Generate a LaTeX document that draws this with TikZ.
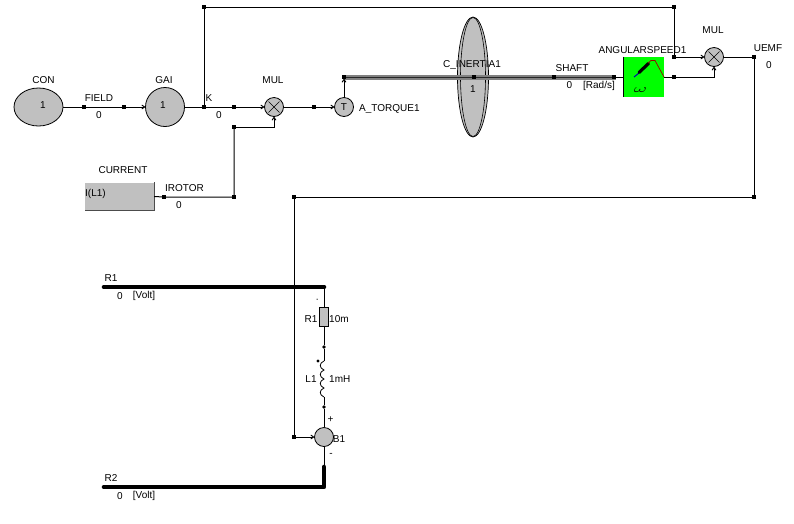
\documentclass[tikz,border=0pt]{standalone}
\usepackage{fontspec}
\setmainfont{Liberation Sans}
\usetikzlibrary{arrows.meta,shapes.geometric,decorations.pathmorphing}
\definecolor{blockgray}{RGB}{192,192,192}
\definecolor{shaftgray}{RGB}{128,128,128}
\definecolor{meter}{RGB}{0,255,0}
\tikzset{
  x=1pt,y=-1pt,
  lab/.style={font=\fontsize{10}{10}\selectfont,inner sep=0pt,anchor=center},
  dot/.style={fill=black,minimum size=3.6pt,inner sep=0pt,draw=none,rectangle},
  rdot/.style={fill=black,minimum size=3.6pt,inner sep=0pt,draw=none,circle},
  block/.style={draw=black,fill=blockgray,line width=0.8pt,inner sep=0pt},
  wire/.style={line width=1pt,draw=black},
  sig/.style={wire,-{To[length=3.5pt,width=4.5pt]}},
  bus/.style={line width=4.6pt,draw=black,line cap=round},
}
\begin{document}
\begin{tikzpicture}
\useasboundingbox (0,0) rectangle (794,523);
\fill[white] (0,0) rectangle (794,523);
% blocks
\node[block,ellipse,minimum width=49pt,minimum height=38pt] (con) at (38.5,107) {};
\node[block,circle,minimum size=39pt] (gai) at (165,107) {};
\node[block,circle,minimum size=19pt] (mula) at (274,107) {};
\node[block,circle,minimum size=19pt] (torque) at (344,107) {};
\node[block,circle,minimum size=19pt] (mulb) at (714,57) {};
\node[block,circle,minimum size=19pt] (bone) at (324,437) {};
\node[fill=blockgray,minimum width=69pt,minimum height=28pt,inner sep=0pt] (cur) at (119.5,196.5) {};
\draw[line width=1pt,draw=black!70] (cur.north east) -- (cur.south east) -- (cur.south west);
% inertia
\node[ellipse,draw=black,fill=blockgray,line width=0.7pt,minimum width=31pt,minimum height=120pt,inner sep=0pt] (inertia) at (473,77) {};
\node[ellipse,draw=black,line width=0.6pt,minimum width=25pt,minimum height=119pt,inner sep=0pt] (inertiain) at (473,77) {};
% junctions
\foreach \n/\x/\y in {fa/84/107,fb/124/107,ka/204/107,kb/234/107,kc/204/7,ma/314/107,sa/344/77,sb/474/77,sc/554/77,sd/614/77,ta/674/7,tb/674/57,tc/674/77,ua/754/57,ub/754/197,uc/294/197,ud/294/437,ia/164/197,ib/234/197,ic/234/127}
  \node[dot] (\n) at (\x,\y) {};
% shaft
\draw[line width=5pt,draw=shaftgray] (sa.center) -- (sb.center) -- (sc.center) -- (sd.center) -- (616,77);
\draw[line width=1pt,draw=black!85] (sa.center) -- (616,77);
\foreach \n in {sa,sb,sc,sd} \node[dot] at (\n) {};
% wires
\draw[wire] (con) -- (fa) -- (fb);
\draw[sig] (fb) -- (gai);
\draw[wire] (gai) -- (ka) -- (kb);
\draw[sig] (kb) -- (mula);
\draw[wire] (mula) -- (ma);
\draw[sig] (ma) -- (torque);
\draw[sig] (torque) -- (sa);
\draw[wire] (ka) -- (kc) -- (ta) -- (tb);
\draw[sig] (tb) -- (mulb);
\draw[wire] (mulb) -- (ua) -- (ub) -- (uc) -- (ud);
\draw[sig] (ud) -- (bone);
\draw[wire] (cur.east) -- (ia) -- (ib) -- (ic);
\draw[sig] (ic) -| (mula);
\draw[wire] (sd) -- (624,77);
% meter
\node[fill=meter,minimum size=40pt,inner sep=0pt] (meter) at (644,77) {};
\draw[line width=0.8pt,draw=black] (meter.north west) -- (meter.south west);
\draw[wire] (meter.east) -- (tc);
\draw[sig] (tc) -| (mulb);
\draw[line width=1pt,draw=blue!70!black] (634,77) -- (639,73);
\draw[line width=3.2pt,draw=black,line cap=round] (639,72.5) -- (648.5,63.5);
\draw[line width=0.7pt,draw=red!60!black] (648,63) -- (651,60.5) -- (655,60.5) -- (664,77);
\node[lab] (omega) at (640.5,90) {\scalebox{2}[1.1]{$\omega$}};
% multiplier crosses
\foreach \n in {mula,mulb}{
  \draw[line width=0.5pt] (\n.center)+(-5.5,-5.5) -- +(5.5,5.5);
  \draw[line width=0.5pt] (\n.center)+(-5.5,5.5) -- +(5.5,-5.5);
}
% circuit
\coordinate (rone) at (104,287);
\coordinate (rjoin) at (324,287);
\coordinate (rtwo) at (104,487);
\coordinate (rcorner) at (324,487);
\coordinate (bbot) at (324,467);
\draw[bus] (rone) -- (rjoin);
\draw[bus,line join=round] (bbot) -- (rcorner) -- (rtwo);
\node[block,minimum width=9pt,minimum height=19pt] (res) at (324,317) {};
\node[rdot] (la) at (324,347) {};
\node[rdot] (lb) at (324,407) {};
\node[rdot,minimum size=3.4pt] (ldot) at (318,361) {};
\coordinate (lt) at (324,361);
\coordinate (lbm) at (324,397);
\draw[wire] (rjoin) -- (res);
\draw[wire] (res) -- (la) -- (lt);
\draw[line width=0.8pt] (lt) .. controls (319,363) and (319,368) .. (324,370)
  .. controls (319,372) and (319,377) .. (324,379)
  .. controls (319,381) and (319,386) .. (324,388)
  .. controls (319,390) and (319,395) .. (324,397);
\draw[wire] (lbm) -- (lb) -- (bone) -- (bbot);
\node[lab] at (317.3,300.5) {\textperiodcentered};
% labels
\node[lab] at (43.5,80) {CON};
\node[lab] at (43,105) {1};
\node[lab] at (99,98) {FIELD};
\node[lab] at (99,115) {0};
\node[lab] at (164,80) {GAI};
\node[lab] at (163,105) {1};
\node[lab] at (209,98) {K};
\node[lab] at (219,115) {0};
\node[lab] at (273,80) {MUL};
\node[lab] at (123,170) {CURRENT};
\node[lab,anchor=west] at (85,193.5) {I(L1)};
\node[lab] at (184.5,188) {IROTOR};
\node[lab] at (179,205) {0};
\node[lab] at (344,107) {T};
\node[lab,anchor=west] at (359,109) {A\_TORQUE1};
\node[lab] at (472,65) {C\_INERTIA1};
\node[lab] at (473,89) {1};
\node[lab] at (572,68) {SHAFT};
\node[lab] at (569.5,85.5) {0};
\node[lab] at (599,85.5) {[Rad/s]};
\node[lab] at (642.5,50) {ANGULARSPEED1};
\node[lab] at (713,30) {MUL};
\node[lab] at (768,48) {UEMF};
\node[lab] at (769,65) {0};
\node[lab] at (111,278) {R1};
\node[lab] at (120,296) {0};
\node[lab] at (144,296) {[Volt]};
\node[lab] at (311,319) {R1};
\node[lab,anchor=west] at (329,319) {10m};
\node[lab] at (311,379) {L1};
\node[lab,anchor=west] at (329,379) {1mH};
\node[lab] at (330.5,420) {+};
\node[lab] at (331,455) {-};
\node[lab] at (339,439) {B1};
\node[lab] at (111,478) {R2};
\node[lab] at (120,496) {0};
\node[lab] at (144,496) {[Volt]};
\end{tikzpicture}
\end{document}
